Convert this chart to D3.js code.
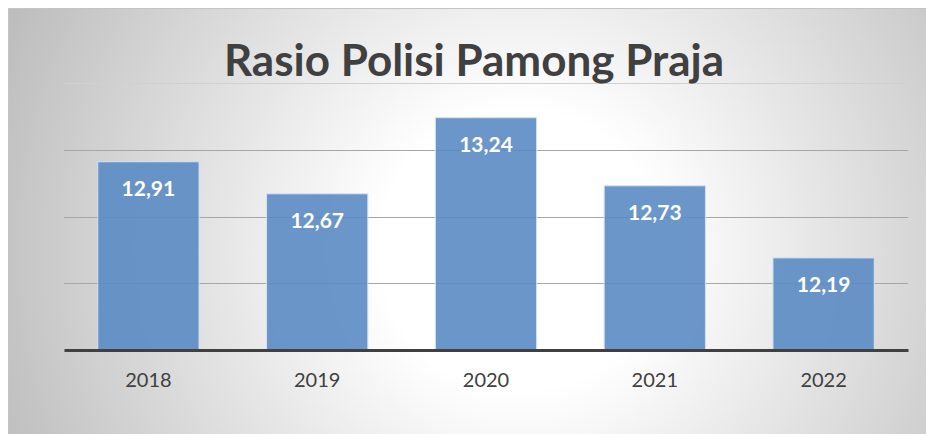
<!DOCTYPE html>
<html>
<head>
<meta charset="utf-8">
<script src="https://cdn.jsdelivr.net/npm/d3@7"></script>
<style>
  body { margin: 0; background: #ffffff; }
  svg { display: block; }
</style>
</head>
<body>
<div id="chart"></div>
<script>
// chart data
const years = ['2018', '2019', '2020', '2021', '2022'];
const ratios = [12.91, 12.67, 13.24, 12.73, 12.19];
const gridValues = [12, 12.5, 13, 13.5];
const chartTitle = 'Rasio Polisi Pamong Praja';

const canvWidth = 926, canvHeight = 434;
const plot = {left: 64, right: 908, top: 83, bottom: 350};

const svg = d3.select('#chart')
    .append('svg')
    .attr('width', canvWidth)
    .attr('height', canvHeight);

// background gradient like the office chart area
const defs = svg.append('defs');
const grad = defs.append('radialGradient')
    .attr('id', 'bg')
    .attr('gradientUnits', 'userSpaceOnUse')
    .attr('cx', 520).attr('cy', 250).attr('r', 560);
grad.append('stop').attr('offset', '0%').attr('stop-color', '#ffffff');
grad.append('stop').attr('offset', '25%').attr('stop-color', '#ffffff');
grad.append('stop').attr('offset', '100%').attr('stop-color', '#bdbdbd');

svg.append('rect')
    .attr('x', 8).attr('y', 8)
    .attr('width', canvWidth - 8).attr('height', canvHeight - 8)
    .attr('fill', 'url(#bg)');
svg.append('line')
    .attr('x1', 8).attr('x2', canvWidth)
    .attr('y1', 8.5).attr('y2', 8.5)
    .attr('stroke', '#c4c4c4').attr('stroke-width', 1);
svg.append('line')
    .attr('x1', 8.5).attr('x2', 8.5)
    .attr('y1', 8).attr('y2', canvHeight)
    .attr('stroke', '#c4c4c4').attr('stroke-width', 1);

// scales
const x = d3.scaleBand()
    .domain(years)
    .range([plot.left, plot.right])
    .paddingInner(0.4)
    .paddingOuter(0.2);

const y = d3.scaleLinear()
    .domain([11.5, 13.5])
    .range([plot.bottom, plot.top]);

// gridlines
svg.append('g')
    .selectAll('line')
    .data(gridValues)
    .join('line')
    .attr('x1', plot.left).attr('x2', plot.right)
    .attr('y1', d => Math.round(y(d)) + 0.5)
    .attr('y2', d => Math.round(y(d)) + 0.5)
    .attr('stroke', d => d === 13.5 ? '#d0d0d0' : '#a6a6a6')
    .attr('stroke-width', 1);

// bars
svg.append('g')
    .selectAll('rect')
    .data(ratios)
    .join('rect')
    .attr('x', (d, i) => x(years[i]))
    .attr('y', d => y(d))
    .attr('width', x.bandwidth())
    .attr('height', d => y(11.5) - y(d))
    .attr('fill', '#5b8bc4')
    .attr('fill-opacity', 0.9)
    .attr('stroke', '#d6e2f2')
    .attr('stroke-width', 1);

// value labels
svg.append('g')
    .selectAll('text')
    .data(ratios)
    .join('text')
    .attr('x', (d, i) => x(years[i]) + x.bandwidth() / 2)
    .attr('y', d => y(d) + 34)
    .attr('text-anchor', 'middle')
    .attr('font-family', 'Lato, "Open Sans", sans-serif')
    .attr('font-weight', 'bold')
    .attr('font-size', 21)
    .attr('fill', '#ffffff')
    .text(d => d3.format('.2f')(d).replace('.', ','));

// x axis baseline + labels
const xAxis = svg.append('g')
    .attr('transform', `translate(0,${plot.bottom})`)
    .call(d3.axisBottom(x).tickSize(0).tickPadding(23));
xAxis.select('.domain')
    .attr('stroke', '#404040')
    .attr('stroke-width', 3);
xAxis.selectAll('text')
    .attr('font-family', 'Lato, "Open Sans", sans-serif')
    .attr('font-size', 20)
    .attr('fill', '#404040');

// title
svg.append('text')
    .attr('x', 474)
    .attr('y', 76)
    .attr('text-anchor', 'middle')
    .attr('font-family', 'Lato, "Open Sans", sans-serif')
    .attr('font-weight', 'bold')
    .attr('font-size', 44)
    .attr('fill', '#404040')
    .text(chartTitle);
</script>
</body>
</html>
